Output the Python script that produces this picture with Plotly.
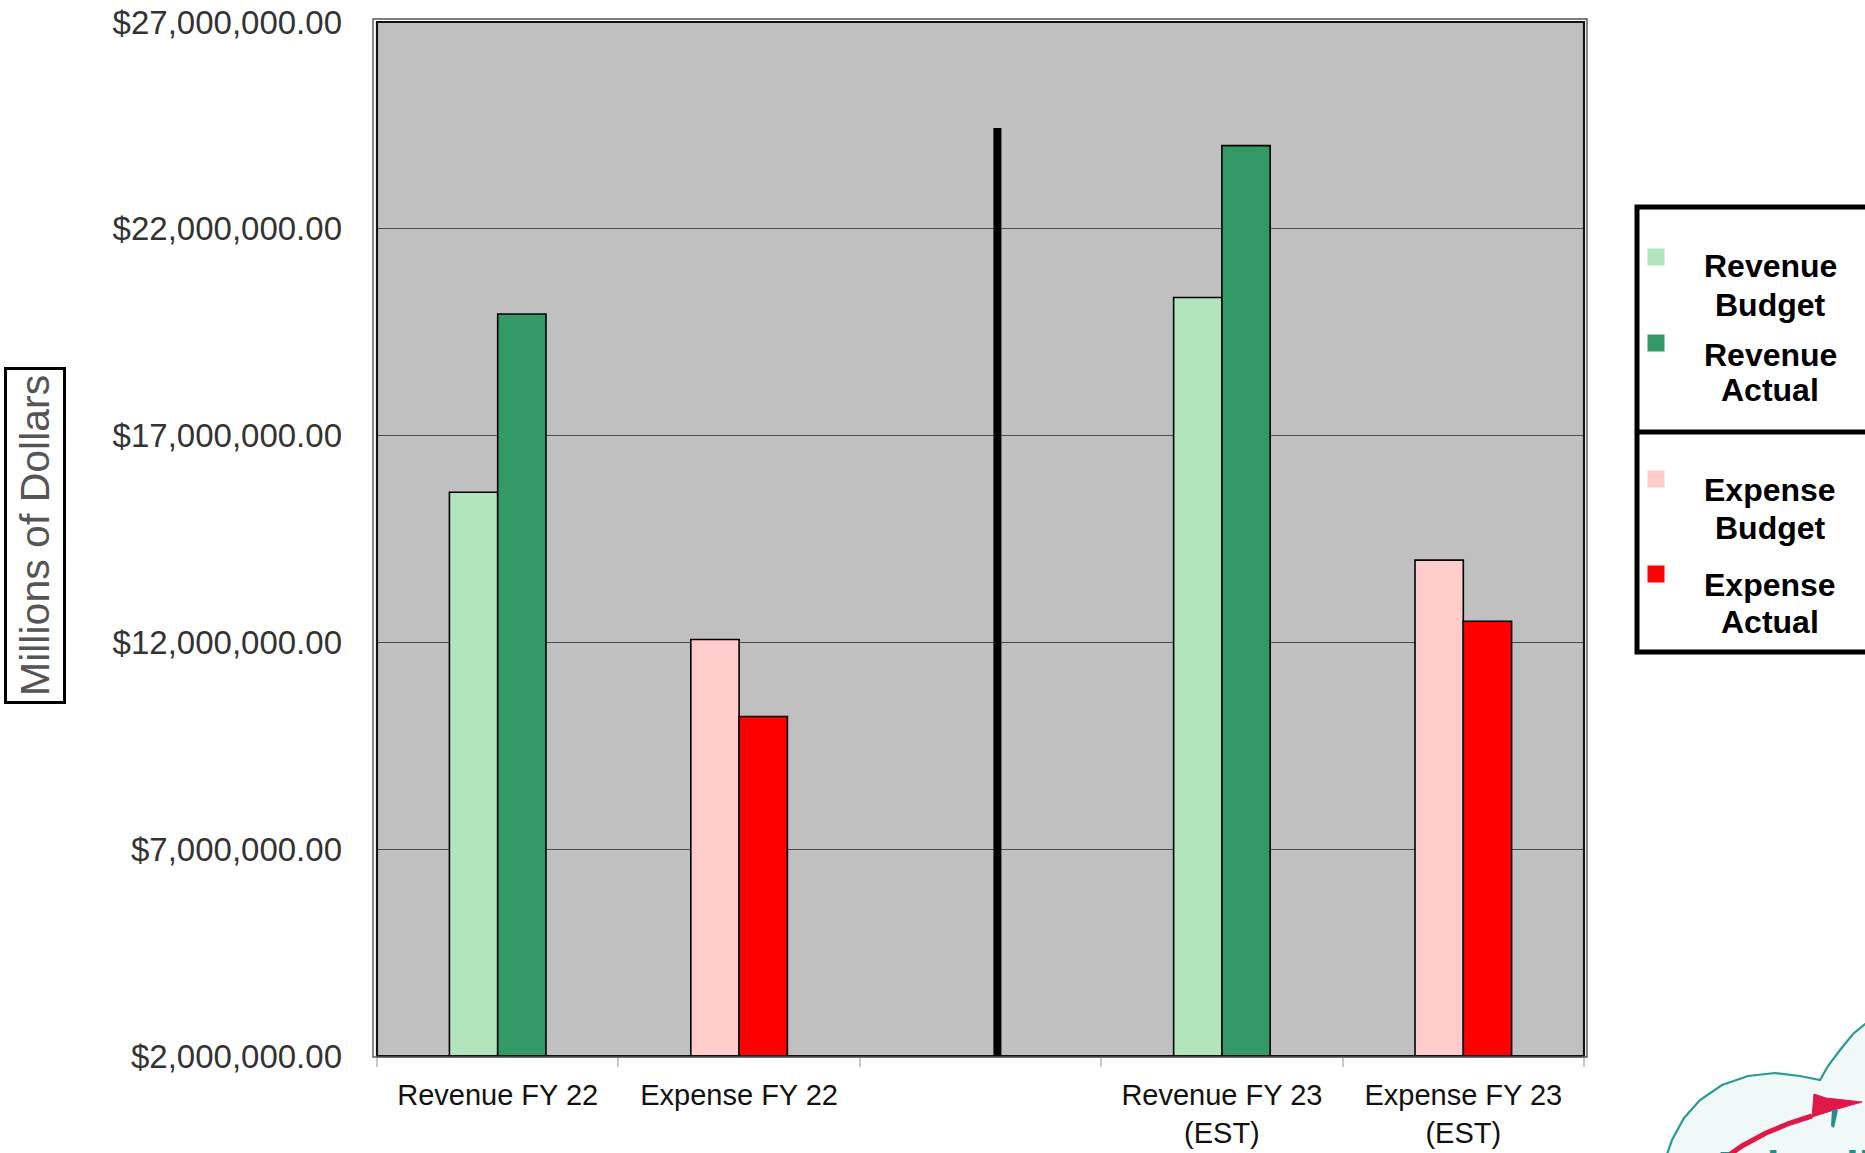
import plotly.graph_objects as go

# ---- data -----------------------------------------------------------------
categories = [
    "Revenue FY 22",
    "Expense FY 22",
    " ",
    "Revenue FY 23<br>(EST)",
    "Expense FY 23<br>(EST)",
]
revenue_budget = [15_630_000, None, None, 20_340_000, None]
revenue_actual = [19_940_000, None, None, 24_010_000, None]
expense_budget = [None, 12_070_000, None, None, 13_990_000]
expense_actual = [None, 10_210_000, None, None, 12_510_000]

y_ticks = [2_000_000, 7_000_000, 12_000_000, 17_000_000, 22_000_000, 27_000_000]
y_range = [2_000_000, 27_000_000]

series_names = ["Revenue Budget", "Revenue Actual", "Expense Budget", "Expense Actual"]
series_colors = ["#b2e5bc", "#339966", "#ffcccc", "#ff0000"]
series_groups = ["budget", "actual", "budget", "actual"]
series_values = [revenue_budget, revenue_actual, expense_budget, expense_actual]

# fiscal-year divider (category index position, top value)
divider_x = 2.07
divider_top = 24_440_000

# ---- page geometry -------------------------------------------------------
W, H = 1865, 1153
ML, MR, MT, MB = 377, 281, 22, 97
PW, PH = W - ML - MR, H - MT - MB
FONT = "Liberation Sans, Arial, Helvetica, sans-serif"


def px(x, y):
    """Convert page pixels to paper coordinates."""
    return (x - ML) / PW, (H - MB - y) / PH


fig = go.Figure()

for name, vals, color, grp in zip(series_names, series_values, series_colors, series_groups):
    fig.add_trace(
        go.Bar(
            name=name,
            x=categories,
            y=vals,
            offsetgroup=grp,
            marker=dict(color=color, line=dict(color="#000000", width=1.6)),
            showlegend=False,
        )
    )

shapes = []

# plot frame: inner black line and outer dark line
shapes.append(dict(type="rect", xref="paper", yref="paper", x0=0, x1=1, y0=0, y1=1,
                   line=dict(color="#111111", width=2.2), layer="above"))
ox0, oy1 = px(ML - 4, MT - 3)
ox1, oy0 = px(ML + PW + 3, MT + PH + 1)
shapes.append(dict(type="rect", xref="paper", yref="paper", x0=ox0, x1=ox1, y0=oy0, y1=oy1,
                   line=dict(color="#555555", width=1.4), layer="above"))

# divider between fiscal years
shapes.append(dict(type="line", xref="x", yref="y", x0=divider_x, x1=divider_x,
                   y0=y_range[0], y1=divider_top,
                   line=dict(color="#000000", width=8), layer="above"))

# legend box, split into a revenue and an expense section
lx0, ly1 = px(1637, 207)
lx1, ly0 = px(1885, 652)
shapes.append(dict(type="rect", xref="paper", yref="paper", x0=lx0, x1=lx1, y0=ly0, y1=ly1,
                   fillcolor="#ffffff", line=dict(color="#000000", width=5), layer="above"))
dx0, dy = px(1637, 432)
dx1, _ = px(1885, 432)
shapes.append(dict(type="line", xref="paper", yref="paper", x0=dx0, x1=dx1, y0=dy, y1=dy,
                   line=dict(color="#000000", width=5), layer="above"))

annotations = []
marker_y = [257, 343, 479, 574]
line_y = [(266, 305), (355, 390), (490, 528), (585, 622)]
for name, color, my, (y1, y2) in zip(series_names, series_colors, marker_y, line_y):
    sx0, sy1 = px(1656 - 8.5, my - 8.5)
    sx1, sy0 = px(1656 + 8.5, my + 8.5)
    shapes.append(dict(type="rect", xref="paper", yref="paper", x0=sx0, x1=sx1, y0=sy0, y1=sy1,
                       fillcolor=color, line=dict(width=0), layer="above"))
    for word, wy in zip(name.split(" "), (y1, y2)):
        ax, ay = px(1770, wy)
        annotations.append(dict(xref="paper", yref="paper", x=ax, y=ay, xanchor="center",
                                yanchor="middle", showarrow=False, text=f"<b>{word}</b>",
                                font=dict(family=FONT, size=32, color="#000000")))

# y axis title in a framed box
tx, ty = px(34.5, 535.5)
annotations.append(dict(xref="paper", yref="paper", x=tx, y=ty, xanchor="center",
                        yanchor="middle", showarrow=False, textangle=-90,
                        text="Millions of Dollars",
                        font=dict(family=FONT, size=41, color="#555555"),
                        bgcolor="#ffffff", bordercolor="#000000", borderwidth=3,
                        borderpad=5))

# airport logo in the lower right corner
def path_from(points):
    parts = []
    for i, (x, y) in enumerate(points):
        u, v = px(x, y)
        parts.append(("M" if i == 0 else "L") + f"{u:.5f},{v:.5f}")
    return " ".join(parts)


cloud_pts = [(1665, 1160), (1672, 1140), (1684, 1118), (1700, 1100), (1722, 1085),
             (1748, 1076), (1775, 1073), (1800, 1076), (1820, 1080), (1828, 1066),
             (1840, 1050), (1853, 1034), (1870, 1020), (1870, 1160)]
shapes.append(dict(type="path", xref="paper", yref="paper",
                   path=path_from(cloud_pts) + " Z",
                   fillcolor="#f1f8f8", line=dict(color="#2a9a96", width=2.2), layer="above"))
swoosh_pts = [(1722, 1160), (1742, 1146), (1766, 1133), (1790, 1123), (1812, 1116)]
shapes.append(dict(type="path", xref="paper", yref="paper", path=path_from(swoosh_pts),
                   line=dict(color="#e0184a", width=5), layer="above"))
plane_pts = [(1814, 1094), (1826, 1098), (1862, 1102), (1834, 1110), (1812, 1117)]
shapes.append(dict(type="path", xref="paper", yref="paper", path=path_from(plane_pts) + " Z",
                   fillcolor="#e0184a", line=dict(color="#e0184a", width=1), layer="above"))
fin_pts = [(1832, 1110), (1838, 1110), (1834, 1128), (1831, 1126)]
shapes.append(dict(type="path", xref="paper", yref="paper", path=path_from(fin_pts) + " Z",
                   fillcolor="#1f8f8a", line=dict(width=0), layer="above"))
nx, ny = px(1706, 1140)
annotations.append(dict(xref="paper", yref="paper", x=nx, y=ny, xanchor="left",
                        yanchor="top", showarrow=False, text="<b>Asheville</b>",
                        font=dict(family=FONT, size=46, color="#1f8f8a")))

fig.update_layout(
    width=W,
    height=H,
    margin=dict(l=ML, r=MR, t=MT, b=MB, pad=0),
    paper_bgcolor="#ffffff",
    plot_bgcolor="#c0c0c0",
    barmode="group",
    bargap=0.6,
    bargroupgap=0,
    showlegend=False,
    shapes=shapes,
    annotations=annotations,
    xaxis=dict(
        type="category",
        categoryorder="array",
        categoryarray=categories,
        range=[-0.5, len(categories) - 0.5],
        automargin=False,
        tickson="boundaries",
        ticks="outside",
        ticklen=9,
        tickwidth=2,
        tickcolor="#c8c8c8",
        showline=True,
        linecolor="#c8c8c8",
        linewidth=2,
        showgrid=False,
        ticklabelstandoff=12,
        tickfont=dict(family=FONT, size=29, color="#111111"),
        fixedrange=True,
    ),
    yaxis=dict(
        range=y_range,
        tickvals=y_ticks,
        tickformat="$,.2f",
        automargin=False,
        showgrid=True,
        gridcolor="#4a4a4a",
        gridwidth=1.2,
        zeroline=False,
        showline=False,
        ticks="",
        ticklabelstandoff=34,
        tickfont=dict(family=FONT, size=33, color="#333333"),
        fixedrange=True,
    ),
)

fig.write_html("out.html")
